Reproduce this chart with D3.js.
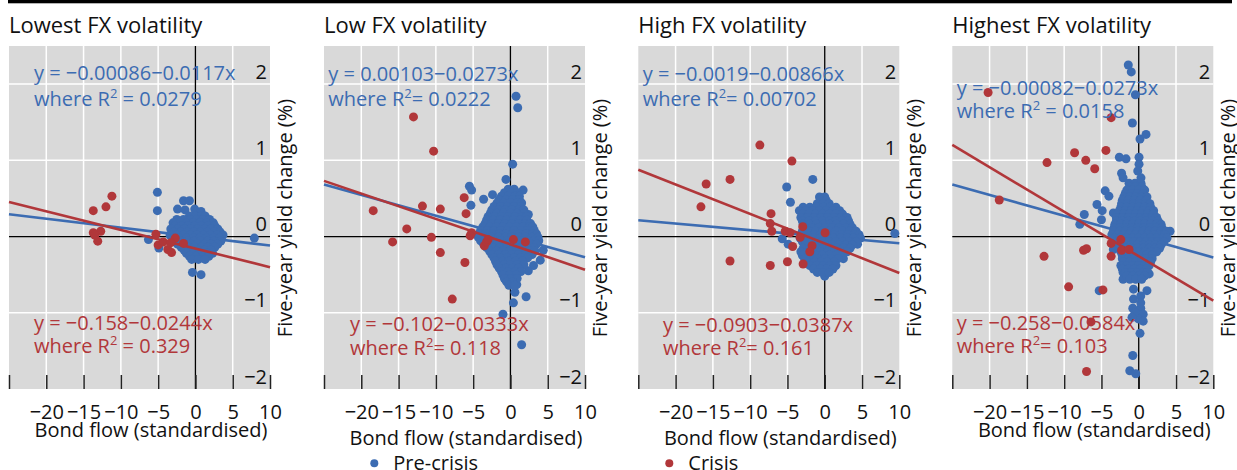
<!DOCTYPE html>
<html>
<head>
<meta charset="utf-8">
<title>Bond flows and yield changes by FX volatility</title>
<script src="https://d3js.org/d3.v7.min.js"></script>
<style>
  body { margin: 0; background: #fff; }
  svg { font-family: "Open Sans", sans-serif; }
  .tick text { font-size: 20px; fill: #111; font-family: "Open Sans", sans-serif; }
</style>
</head>
<body>
<svg id="chart" width="1237" height="470"></svg>
<script>
// panel names
const panelNames = ["Lowest FX volatility", "Low FX volatility", "High FX volatility", "Highest FX volatility"];
const xTicks = [-25, -20, -15, -10, -5, 0, 5, 10];
const yTicks = [-2, -1, 0, 1, 2];

// regression fits
const preIntercept = [-0.00086, 0.00103, -0.0019, -0.00082];
const preSlope = [-0.0117, -0.0273, -0.00866, -0.0273];
const preR2 = [" = 0.0279", "= 0.0222", "= 0.00702", " = 0.0158"];
const crisisIntercept = [-0.158, -0.102, -0.0903, -0.258];
const crisisSlope = [-0.0244, -0.0333, -0.0387, -0.0584];
const crisisR2 = [" = 0.329", "= 0.118", "= 0.161", "= 0.103"];

const preLowest = [
  [-5.1,0.58],[-5.1,0.34],[-1.6,0.47],[-0.8,0.47],[-2.4,0.36],[-1.4,0.35],[-0.1,0.36],[0.75,0.33],
  [7.9,-0.02],[-0.4,-0.47],[0.75,-0.5],[-6.3,-0.04],[-4.9,-0.15],
  [-0.8,0.27],[0,0.27],[0.8,0.27],[1.3,0.27],
  [-2.5,0.225],[-1.6,0.225],[-0.7,0.225],[0.2,0.225],[1.0,0.225],[1.9,0.225],
  [-3.0,0.18],[-2.1,0.18],[-1.2,0.18],[-0.3,0.18],[0.6,0.18],[1.5,0.18],[2.4,0.18],
  [-2.8,0.14],[-1.9,0.14],[-1.0,0.14],[-0.1,0.14],[0.8,0.14],[1.7,0.14],[2.6,0.14],
  [-3.3,0.1],[-2.4,0.1],[-1.5,0.1],[-0.6,0.1],[0.3,0.1],[1.2,0.1],[2.1,0.1],[3.0,0.1],
  [-2.9,0.06],[-2.0,0.06],[-1.1,0.06],[-0.2,0.06],[0.7,0.06],[1.6,0.06],[2.5,0.06],[3.3,0.06],
  [-3.4,0.02],[-2.5,0.02],[-1.6,0.02],[-0.7,0.02],[0.2,0.02],[1.1,0.02],[2.0,0.02],[2.9,0.02],[3.7,0.02],
  [-3.0,-0.02],[-2.1,-0.02],[-1.2,-0.02],[-0.3,-0.02],[0.6,-0.02],[1.5,-0.02],[2.4,-0.02],[3.2,-0.02],
  [-2.9,-0.06],[-2.0,-0.06],[-1.1,-0.06],[-0.2,-0.06],[0.7,-0.06],[1.6,-0.06],[2.5,-0.06],[3.4,-0.06],
  [-2.4,-0.1],[-1.5,-0.1],[-0.6,-0.1],[0.3,-0.1],[1.2,-0.1],[2.1,-0.1],[3.0,-0.1],
  [-1.9,-0.14],[-1.0,-0.14],[-0.1,-0.14],[0.8,-0.14],[1.7,-0.14],[2.6,-0.14],
  [-1.5,-0.18],[-0.6,-0.18],[0.3,-0.18],[1.2,-0.18],[2.1,-0.18],
  [-1.2,-0.22],[-0.3,-0.22],[0.6,-0.22],[1.5,-0.22],[2.3,-0.22],
  [-0.8,-0.26],[0.1,-0.26],[1.0,-0.26],[1.8,-0.26],
  [-0.5,-0.3],[0.4,-0.3],[1.3,-0.3]
];
const crisisLowest = [
  [-11.2,0.53],[-12.0,0.39],[-13.7,0.34],[-13.7,0.05],[-12.7,0.07],[-13.1,-0.06],[-13.5,0.02],
  [-5.3,0.03],[-5.0,-0.11],[-4.3,-0.07],[-3.7,-0.17],[-3.2,-0.21],[-2.7,-0.02],[-1.6,-0.09],[-3.3,-0.08]
];

const preLow = [
  [0.75,1.84],[0.98,1.69],[0.3,0.95],[-0.6,0.75],[-5.5,0.66],[-5.2,0.61],[-5.3,0.41],[-3.6,0.49],
  [-2.4,0.55],[1.7,0.61],[2.4,0.29],[4.4,-0.18],[4.0,-0.31],[3.1,-0.38],[2.4,-0.45],[2.1,-0.79],
  [0.4,-0.87],[-1.0,-1.02],[1.5,-1.42],[0.6,-0.73],[0.85,-0.63],[-0.7,-0.56],
  [-0.3,0.62],[0.5,0.62],
  [-0.8,0.575],[0.1,0.575],[0.9,0.575],
  [-1.2,0.53],[-0.3,0.53],[0.6,0.53],[1.2,0.53],
  [-1.5,0.485],[-0.6,0.485],[0.3,0.485],[1.2,0.485],
  [-1.8,0.44],[-0.9,0.44],[0,0.44],[0.9,0.44],[1.5,0.44],
  [-2.2,0.395],[-1.3,0.395],[-0.4,0.395],[0.5,0.395],[1.4,0.395],
  [-2.5,0.35],[-1.6,0.35],[-0.7,0.35],[0.2,0.35],[1.1,0.35],[1.8,0.35],
  [-2.7,0.305],[-1.8,0.305],[-0.9,0.305],[0,0.305],[0.9,0.305],[1.8,0.305],
  [-3.0,0.26],[-2.1,0.26],[-1.2,0.26],[-0.3,0.26],[0.6,0.26],[1.5,0.26],[2.2,0.26],
  [-3.2,0.215],[-2.3,0.215],[-1.4,0.215],[-0.5,0.215],[0.4,0.215],[1.3,0.215],[2.2,0.215],
  [-3.4,0.17],[-2.5,0.17],[-1.6,0.17],[-0.7,0.17],[0.2,0.17],[1.1,0.17],[2.0,0.17],[2.7,0.17],
  [-3.7,0.125],[-2.8,0.125],[-1.9,0.125],[-1.0,0.125],[-0.1,0.125],[0.8,0.125],[1.7,0.125],[2.6,0.125],[3.0,0.125],
  [-4.0,0.08],[-3.1,0.08],[-2.2,0.08],[-1.3,0.08],[-0.4,0.08],[0.5,0.08],[1.4,0.08],[2.3,0.08],[3.2,0.08],
  [-4.2,0.035],[-3.3,0.035],[-2.4,0.035],[-1.5,0.035],[-0.6,0.035],[0.3,0.035],[1.2,0.035],[2.1,0.035],[3.0,0.035],[3.5,0.035],
  [-4.3,-0.01],[-3.4,-0.01],[-2.5,-0.01],[-1.6,-0.01],[-0.7,-0.01],[0.2,-0.01],[1.1,-0.01],[2.0,-0.01],[2.9,-0.01],[3.7,-0.01],
  [-4.0,-0.055],[-3.1,-0.055],[-2.2,-0.055],[-1.3,-0.055],[-0.4,-0.055],[0.5,-0.055],[1.4,-0.055],[2.3,-0.055],[3.2,-0.055],[3.8,-0.055],
  [-3.6,-0.1],[-2.7,-0.1],[-1.8,-0.1],[-0.9,-0.1],[0,-0.1],[0.9,-0.1],[1.8,-0.1],[2.7,-0.1],[3.5,-0.1],
  [-3.2,-0.145],[-2.3,-0.145],[-1.4,-0.145],[-0.5,-0.145],[0.4,-0.145],[1.3,-0.145],[2.2,-0.145],[3.1,-0.145],
  [-2.8,-0.19],[-1.9,-0.19],[-1.0,-0.19],[-0.1,-0.19],[0.8,-0.19],[1.7,-0.19],[2.6,-0.19],[3.3,-0.19],
  [-2.5,-0.235],[-1.6,-0.235],[-0.7,-0.235],[0.2,-0.235],[1.1,-0.235],[2.0,-0.235],[2.9,-0.235],
  [-2.2,-0.28],[-1.3,-0.28],[-0.4,-0.28],[0.5,-0.28],[1.4,-0.28],[2.3,-0.28],
  [-2.0,-0.325],[-1.1,-0.325],[-0.2,-0.325],[0.7,-0.325],[1.6,-0.325],
  [-1.8,-0.37],[-0.9,-0.37],[0,-0.37],[0.9,-0.37],[1.8,-0.37],
  [-1.5,-0.415],[-0.6,-0.415],[0.3,-0.415],[1.1,-0.415],
  [-1.2,-0.46],[-0.3,-0.46],[0.6,-0.46],[1.4,-0.46],
  [-1.0,-0.505],[-0.1,-0.505],[0.8,-0.505],
  [-0.8,-0.55],[0.1,-0.55],[0.9,-0.55],
  [-0.5,-0.595],[0.3,-0.595],
  [-0.2,-0.64],[0.6,-0.64]
];
const crisisLow = [
  [-13.0,1.57],[-10.3,1.12],[-18.4,0.34],[-11.8,0.40],[-9.4,0.36],[-6.2,0.51],[-5.95,0.30],
  [-13.9,0.10],[-15.8,-0.07],[-10.6,-0.01],[-9.4,-0.21],[-6.1,-0.34],[-7.8,-0.82],
  [-5.2,0.05],[-5.4,0.01],[-3.5,-0.12],[-3.2,-0.07],[-3.0,-0.04],[0.4,-0.04],[2.0,-0.07]
];

const preHigh = [
  [-1.6,0.75],[-5.1,0.65],[-4.6,0.45],[-0.6,0.51],[9.4,0.04],[-5.7,-0.03],[-4.9,-0.1],
  [2.5,-0.29],[4.4,-0.1],[0,-0.52],
  [-0.7,0.52],[0,0.52],
  [-0.6,0.475],[0.2,0.475],
  [-1.0,0.43],[-0.2,0.43],[0.6,0.43],
  [-2.9,0.385],[-2.0,0.385],[-1.1,0.385],[-0.2,0.385],[0.7,0.385],[1.5,0.385],
  [-3.4,0.34],[-2.5,0.34],[-1.6,0.34],[-0.7,0.34],[0.2,0.34],[1.1,0.34],[2.0,0.34],
  [-3.0,0.295],[-2.1,0.295],[-1.2,0.295],[-0.3,0.295],[0.6,0.295],[1.5,0.295],[2.4,0.295],
  [-3.2,0.25],[-2.3,0.25],[-1.4,0.25],[-0.5,0.25],[0.4,0.25],[1.3,0.25],[2.2,0.25],[3.0,0.25],
  [-3.0,0.205],[-2.1,0.205],[-1.2,0.205],[-0.3,0.205],[0.6,0.205],[1.5,0.205],[2.4,0.205],[3.2,0.205],
  [-2.9,0.16],[-2.0,0.16],[-1.1,0.16],[-0.2,0.16],[0.7,0.16],[1.6,0.16],[2.5,0.16],[3.4,0.16],
  [-2.6,0.115],[-1.7,0.115],[-0.8,0.115],[0.1,0.115],[1.0,0.115],[1.9,0.115],[2.8,0.115],[3.7,0.115],
  [-3.0,0.07],[-2.1,0.07],[-1.2,0.07],[-0.3,0.07],[0.6,0.07],[1.5,0.07],[2.4,0.07],[3.3,0.07],[4.2,0.07],
  [-3.2,0.025],[-2.3,0.025],[-1.4,0.025],[-0.5,0.025],[0.4,0.025],[1.3,0.025],[2.2,0.025],[3.1,0.025],[4.0,0.025],[4.6,0.025],
  [-3.3,-0.02],[-2.4,-0.02],[-1.5,-0.02],[-0.6,-0.02],[0.3,-0.02],[1.2,-0.02],[2.1,-0.02],[3.0,-0.02],[3.9,-0.02],[4.8,-0.02],
  [-3.0,-0.065],[-2.1,-0.065],[-1.2,-0.065],[-0.3,-0.065],[0.6,-0.065],[1.5,-0.065],[2.4,-0.065],[3.3,-0.065],[4.2,-0.065],
  [-2.6,-0.11],[-1.7,-0.11],[-0.8,-0.11],[0.1,-0.11],[1.0,-0.11],[1.9,-0.11],[2.8,-0.11],[3.7,-0.11],
  [-2.9,-0.155],[-2.0,-0.155],[-1.1,-0.155],[-0.2,-0.155],[0.7,-0.155],[1.6,-0.155],[2.5,-0.155],[3.4,-0.155],
  [-3.2,-0.2],[-2.3,-0.2],[-1.4,-0.2],[-0.5,-0.2],[0.4,-0.2],[1.3,-0.2],[2.2,-0.2],[3.0,-0.2],
  [-3.0,-0.245],[-2.1,-0.245],[-1.2,-0.245],[-0.3,-0.245],[0.6,-0.245],[1.5,-0.245],[2.4,-0.245],
  [-2.7,-0.29],[-1.8,-0.29],[-0.9,-0.29],[0,-0.29],[0.9,-0.29],[1.8,-0.29],
  [-2.3,-0.335],[-1.4,-0.335],[-0.5,-0.335],[0.4,-0.335],[1.3,-0.335],
  [-2.0,-0.38],[-1.1,-0.38],[-0.2,-0.38],[0.7,-0.38],[1.5,-0.38],
  [-1.5,-0.425],[-0.6,-0.425],[0.3,-0.425],[1.1,-0.425],
  [-1.0,-0.47],[-0.2,-0.47],[0.6,-0.47]
];
const crisisHigh = [
  [-8.7,1.20],[-4.4,0.99],[-15.9,0.69],[-12.7,0.75],[-16.6,0.39],[-7.2,0.30],[-7.3,0.17],
  [-7.1,0.07],[-5.3,0.07],[-4.65,0.05],[-2.95,0.13],[-3.3,-0.01],[-4.3,-0.13],[-1.7,-0.12],
  [-2.0,-0.20],[0.05,0.05],[-12.7,-0.32],[-7.3,-0.38],[-5.0,-0.33],[-2.9,-0.36]
];

const preHighest = [
  [-1.4,2.25],[-1.0,2.16],[-0.45,1.86],[-0.85,1.49],[0.17,1.28],[0.98,1.34],[-2.6,1.04],[-1.7,1.02],
  [0.04,1.04],[0.04,0.95],[-0.13,0.86],[-2.3,0.83],[-2.1,0.77],[0.3,0.77],[-4.5,0.60],[-4.0,0.53],
  [-5.6,0.42],[-7.3,0.29],[-7.9,0.16],[-4.9,0.34],[-3.4,0.31],[-5.0,0.22],[4.2,0.07],[-3.4,-0.17],
  [-5.3,-0.71],[-0.7,-0.69],[1.1,-0.71],[-0.7,-0.82],[0.27,-0.78],[-0.8,-0.94],[0.27,-0.94],
  [0.6,-1.02],[-0.05,-1.08],[0.6,-1.11],[0.17,-1.27],[-0.8,-1.56],[-1.2,-1.76],[-0.4,-1.80],
  [-0.5,-1.0],[-0.9,-1.06],[0.27,-0.87],[-2.1,-0.47],[-2.1,-0.56],[1.4,-0.49],
  [-1.3,0.70],[-0.5,0.70],[0.3,0.70],
  [-1.2,0.655],[-0.4,0.655],[0.4,0.655],
  [-1.6,0.61],[-0.8,0.61],[0,0.61],[0.8,0.61],
  [-1.8,0.565],[-1.0,0.565],[-0.2,0.565],[0.6,0.565],
  [-2.0,0.52],[-1.2,0.52],[-0.4,0.52],[0.4,0.52],[1.1,0.52],
  [-2.2,0.475],[-1.4,0.475],[-0.6,0.475],[0.2,0.475],[1.0,0.475],
  [-2.3,0.43],[-1.5,0.43],[-0.7,0.43],[0.1,0.43],[0.9,0.43],[1.5,0.43],
  [-2.4,0.385],[-1.6,0.385],[-0.8,0.385],[0,0.385],[0.8,0.385],[1.6,0.385],
  [-2.6,0.34],[-1.8,0.34],[-1.0,0.34],[-0.2,0.34],[0.6,0.34],[1.4,0.34],[2.0,0.34],
  [-2.8,0.295],[-2.0,0.295],[-1.2,0.295],[-0.4,0.295],[0.4,0.295],[1.2,0.295],[2.0,0.295],
  [-3.0,0.25],[-2.2,0.25],[-1.4,0.25],[-0.6,0.25],[0.2,0.25],[1.0,0.25],[1.8,0.25],[2.4,0.25],
  [-3.0,0.205],[-2.2,0.205],[-1.4,0.205],[-0.6,0.205],[0.2,0.205],[1.0,0.205],[1.8,0.205],[2.6,0.205],
  [-3.2,0.16],[-2.4,0.16],[-1.6,0.16],[-0.8,0.16],[0,0.16],[0.8,0.16],[1.6,0.16],[2.4,0.16],[3.0,0.16],
  [-3.3,0.115],[-2.5,0.115],[-1.7,0.115],[-0.9,0.115],[-0.1,0.115],[0.7,0.115],[1.5,0.115],[2.3,0.115],[3.1,0.115],
  [-3.4,0.07],[-2.6,0.07],[-1.8,0.07],[-1.0,0.07],[-0.2,0.07],[0.6,0.07],[1.4,0.07],[2.2,0.07],[3.0,0.07],[3.7,0.07],
  [-3.6,0.025],[-2.8,0.025],[-2.0,0.025],[-1.2,0.025],[-0.4,0.025],[0.4,0.025],[1.2,0.025],[2.0,0.025],[2.8,0.025],[3.5,0.025],
  [-3.2,-0.02],[-2.4,-0.02],[-1.6,-0.02],[-0.8,-0.02],[0,-0.02],[0.8,-0.02],[1.6,-0.02],[2.4,-0.02],[3.2,-0.02],[3.8,-0.02],
  [-3.0,-0.065],[-2.2,-0.065],[-1.4,-0.065],[-0.6,-0.065],[0.2,-0.065],[1.0,-0.065],[1.8,-0.065],[2.6,-0.065],[3.4,-0.065],
  [-2.6,-0.11],[-1.8,-0.11],[-1.0,-0.11],[-0.2,-0.11],[0.6,-0.11],[1.4,-0.11],[2.2,-0.11],[3.0,-0.11],
  [-2.6,-0.155],[-1.8,-0.155],[-1.0,-0.155],[-0.2,-0.155],[0.6,-0.155],[1.4,-0.155],[2.2,-0.155],[2.8,-0.155],
  [-2.4,-0.2],[-1.6,-0.2],[-0.8,-0.2],[0,-0.2],[0.8,-0.2],[1.6,-0.2],[2.4,-0.2],
  [-2.2,-0.245],[-1.4,-0.245],[-0.6,-0.245],[0.2,-0.245],[1.0,-0.245],[1.8,-0.245],
  [-2.2,-0.29],[-1.4,-0.29],[-0.6,-0.29],[0.2,-0.29],[1.0,-0.29],[1.8,-0.29],
  [-2.0,-0.335],[-1.2,-0.335],[-0.4,-0.335],[0.4,-0.335],[1.2,-0.335],[1.6,-0.335],
  [-2.4,-0.38],[-1.6,-0.38],[-0.8,-0.38],[0,-0.38],[0.8,-0.38],[1.4,-0.38],
  [-2.2,-0.425],[-1.4,-0.425],[-0.6,-0.425],[0.2,-0.425],[1.0,-0.425],
  [-1.8,-0.47],[-1.0,-0.47],[-0.2,-0.47],[0.6,-0.47],[1.2,-0.47],
  [-1.6,-0.515],[-0.8,-0.515],[0,-0.515],[0.8,-0.515],
  [-1.2,-0.56],[-0.4,-0.56],[0.4,-0.56]
];
const crisisHighest = [
  [-20.2,1.89],[-3.7,1.56],[-8.6,1.10],[-4.4,1.13],[-12.3,0.97],[-7.1,1.00],[-5.9,0.89],
  [-18.7,0.48],[-12.7,-0.26],[-7.4,-0.18],[-7.0,-0.16],[-3.7,-0.09],[-3.7,-0.26],[-2.4,-0.04],
  [-2.3,-0.18],[-1.3,-0.17],[-9.4,-0.66],[-4.8,-0.70],[-6.4,-1.12],[-7.0,-1.77]
];

const preData = [preLowest, preLow, preHigh, preHighest];
const crisisData = [crisisLowest, crisisLow, crisisHigh, crisisHighest];

// layout
const blue = "#3c6cb2", red = "#b1373a";
const panelLeft = [9, 324, 638.3, 952.3];
const plotW = 261, plotTop = 46, plotBottom = 389;
const preLabel = [[25, 80, 106], [4.3, 81, 106], [4.4, 81, 106], [4.4, 95, 118]];
const crisisLabel = [[25, 330, 353], [26, 331, 355], [24.7, 331.5, 355], [4.4, 330, 353]];
const bondLabelY = [437, 445, 445, 437];
const dotR = 4.5;

const svg = d3.select("#chart");
svg.append("rect").attr("x", 8).attr("y", 0).attr("width", 1224).attr("height", 3.3).attr("fill", "#000");

const fmt = d3.format("");
function eqText(a, b) {
  return "y = " + String(a).replace("-", "\u2212") + "\u2212" + Math.abs(b) + "x";
}

panelNames.forEach(function(name, i) {
  const g = svg.append("g").attr("transform", "translate(" + panelLeft[i] + ",0)");
  const x = d3.scaleLinear().domain([-25, 10]).range([0, plotW]);
  const y = d3.scaleLinear().domain([-2, 2.5]).range([plotBottom, plotTop]);

  g.append("text").attr("x", 0).attr("y", 33).attr("font-size", 22).attr("fill", "#111").text(name);

  g.append("rect").attr("x", 0).attr("y", plotTop).attr("width", plotW)
    .attr("height", plotBottom - plotTop).attr("fill", "#d9d9d9");

  // grid
  g.selectAll(".vgrid").data(xTicks.filter(function(t) { return t !== 0 && t !== -25 && t !== 10; }))
    .join("line").attr("class", "vgrid")
    .attr("x1", function(d) { return x(d); }).attr("x2", function(d) { return x(d); })
    .attr("y1", plotTop).attr("y2", plotBottom)
    .attr("stroke", "#fff").attr("stroke-width", 1.5);
  g.selectAll(".hgrid").data(yTicks.filter(function(t) { return t !== 0 && t !== -2; }))
    .join("line").attr("class", "hgrid")
    .attr("x1", 0).attr("x2", plotW)
    .attr("y1", function(d) { return y(d); }).attr("y2", function(d) { return y(d); })
    .attr("stroke", "#fff").attr("stroke-width", 1.5);

  g.append("line").attr("x1", x(0)).attr("x2", x(0)).attr("y1", plotTop).attr("y2", plotBottom)
    .attr("stroke", "#000").attr("stroke-width", 1.3);
  g.append("line").attr("x1", 0).attr("x2", plotW).attr("y1", y(0)).attr("y2", y(0))
    .attr("stroke", "#000").attr("stroke-width", 1.3);

  // bottom axis ticks
  const xAxis = d3.axisBottom(x).tickValues(xTicks)
    .tickFormat(function(d) { return d === -25 ? "" : fmt(d); })
    .tickSizeInner(-14).tickSizeOuter(0).tickPadding(15.8);
  const ax = g.append("g").attr("transform", "translate(0," + plotBottom + ")").call(xAxis);
  ax.select(".domain").remove();
  ax.selectAll(".tick line").attr("stroke", "#222").attr("stroke-width", 1.5);

  // right tick labels
  g.selectAll(".ylab").data(yTicks).join("text").attr("class", "ylab")
    .attr("x", plotW - 3).attr("y", function(d) { return y(d) - 5.5; })
    .attr("text-anchor", "end").attr("font-size", 20).attr("fill", "#111")
    .text(function(d) { return fmt(d); });

  g.append("text")
    .attr("transform", "translate(" + (plotW + 21.5) + "," + ((plotTop + plotBottom) / 2 + 0.5) + ") rotate(-90)")
    .attr("text-anchor", "middle").attr("font-size", 20).attr("fill", "#111")
    .text("Five-year yield change (%)");

  g.append("text").attr("x", plotW / 2 + 11.5).attr("y", bondLabelY[i])
    .attr("text-anchor", "middle").attr("font-size", 20).attr("fill", "#111")
    .text("Bond flow (standardised)");

  // fitted lines and points
  const ends = x.domain();
  const line = d3.line().x(function(d) { return x(d[0]); }).y(function(d) { return y(d[1]); });
  g.append("path").attr("d", line(ends.map(function(v) { return [v, preIntercept[i] + preSlope[i] * v]; })))
    .attr("stroke", blue).attr("stroke-width", 2.6).attr("fill", "none");
  g.selectAll(".pre").data(preData[i]).join("circle").attr("class", "pre")
    .attr("cx", function(d) { return x(d[0]); }).attr("cy", function(d) { return y(d[1]); })
    .attr("r", dotR).attr("fill", blue);
  g.append("path").attr("d", line(ends.map(function(v) { return [v, crisisIntercept[i] + crisisSlope[i] * v]; })))
    .attr("stroke", red).attr("stroke-width", 2.6).attr("fill", "none");
  g.selectAll(".crisis").data(crisisData[i]).join("circle").attr("class", "crisis")
    .attr("cx", function(d) { return x(d[0]); }).attr("cy", function(d) { return y(d[1]); })
    .attr("r", dotR).attr("fill", red);

  // equations
  function addEq(pos, col, a, b, r2) {
    g.append("text").attr("x", pos[0]).attr("y", pos[1]).attr("font-size", 20).attr("fill", col)
      .text(eqText(a, b));
    const t = g.append("text").attr("x", pos[0]).attr("y", pos[2]).attr("font-size", 20).attr("fill", col);
    t.append("tspan").text("where R");
    t.append("tspan").attr("font-size", 13).attr("dy", -8).text("2");
    t.append("tspan").attr("dy", 8).style("white-space", "pre").text(r2);
  }
  addEq(preLabel[i], blue, preIntercept[i], preSlope[i], preR2[i]);
  addEq(crisisLabel[i], red, crisisIntercept[i], crisisSlope[i], crisisR2[i]);
});

// legend
const legend = [["Pre-crisis", blue, 374.3], ["Crisis", red, 669.3]];
legend.forEach(function(l) {
  svg.append("circle").attr("cx", l[2]).attr("cy", 463.3).attr("r", 4).attr("fill", l[1]);
  svg.append("text").attr("x", l[2] + 19).attr("y", 469.5).attr("font-size", 20).attr("fill", "#111").text(l[0]);
});
</script>
</body>
</html>
